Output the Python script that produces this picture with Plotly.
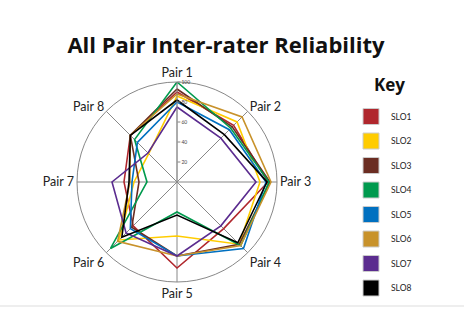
import plotly.graph_objects as go

pairs = ["Pair 1", "Pair 2", "Pair 3", "Pair 4", "Pair 5", "Pair 6", "Pair 7", "Pair 8"]
slo_names = ["SLO1", "SLO2", "SLO3", "SLO4", "SLO5", "SLO6", "SLO7", "SLO8"]

slo1 = [90, 80, 91, 66, 86, 62, 53, 66]
slo2 = [86, 85, 83, 88, 54, 82, 43, 40]
slo3 = [93, 78, 93, 88, 74, 64, 38, 66]
slo4 = [100, 76, 92, 90, 30, 94, 30, 60]
slo5 = [80, 74, 89, 94, 74, 66, 45, 56]
slo6 = [88, 92, 94, 90, 74, 84, 47, 66]
slo7 = [75, 62, 79, 62, 74, 72, 65, 41]
slo8 = [82, 67, 90, 86, 33, 78, 48, 66]

series = [slo1, slo2, slo3, slo4, slo5, slo6, slo7, slo8]
colors = ["#B0272D", "#FFCC00", "#6B2D22", "#009A4E", "#0070C0", "#C8922B", "#5B2C8F", "#000000"]

fig = go.Figure()
for name, vals, col in zip(slo_names, series, colors):
    fig.add_trace(go.Scatterpolar(
        r=vals + [vals[0]], theta=pairs + [pairs[0]],
        mode="lines", line=dict(color=col, width=1.6),
        showlegend=False, hoverinfo="skip"))
# legend swatches
for i, (name, col) in enumerate(zip(slo_names, colors)):
    fig.add_trace(go.Scatterpolar(
        r=[None], theta=[pairs[0]], mode="markers", name=name,
        legendgroup=name,
        marker=dict(symbol="square", size=16, color=col,
                    line=dict(color="#cccccc", width=1))))

fig.update_layout(
    width=464, height=317,
    margin=dict(l=0, r=0, t=0, b=0),
    paper_bgcolor="white",
    font=dict(family="Lato, Open Sans, sans-serif", color="#222"),
    title=dict(text="<b>All Pair Inter-rater Reliability</b>",
               x=0.487, xanchor="center", y=1 - 45 / 317, yanchor="middle",
               font=dict(size=22, color="#111", family="Open Sans")),
    polar=dict(
        domain=dict(x=[77 / 464, 277 / 464], y=[35 / 317, 235 / 317]),
        bgcolor="white",
        angularaxis=dict(
            rotation=90, direction="clockwise",
            showgrid=True, gridcolor="#888", gridwidth=0.8,
            linecolor="#888", linewidth=1,
            ticks="", tickfont=dict(size=12.5, color="#222")),
        radialaxis=dict(
            range=[0, 100], angle=90, tickangle=90,
            tickvals=[20, 40, 60, 80, 100],
            showgrid=False, showline=True, linecolor="#888", linewidth=0.8,
            ticks="outside", ticklen=3, tickcolor="#888",
            tickfont=dict(size=5, color="#444")),
    ),
    legend=dict(
        x=351 / 464, y=1 - 102 / 317, xanchor="left", yanchor="top",
        font=dict(size=8.5, color="#222"),
        tracegroupgap=5.5, itemwidth=30, traceorder="grouped",
        bgcolor="rgba(0,0,0,0)"),
    annotations=[dict(text="<b>Key</b>", x=389 / 464, y=1 - 84 / 317,
                      xref="paper", yref="paper", showarrow=False,
                      xanchor="center", yanchor="middle",
                      font=dict(size=17, color="#111", family="Open Sans"))],
    shapes=[dict(type="line", xref="paper", yref="paper",
                 x0=0, x1=1, y0=1 - 306 / 317, y1=1 - 306 / 317,
                 line=dict(color="#dddddd", width=1))],
)

fig.write_html("out.html")
